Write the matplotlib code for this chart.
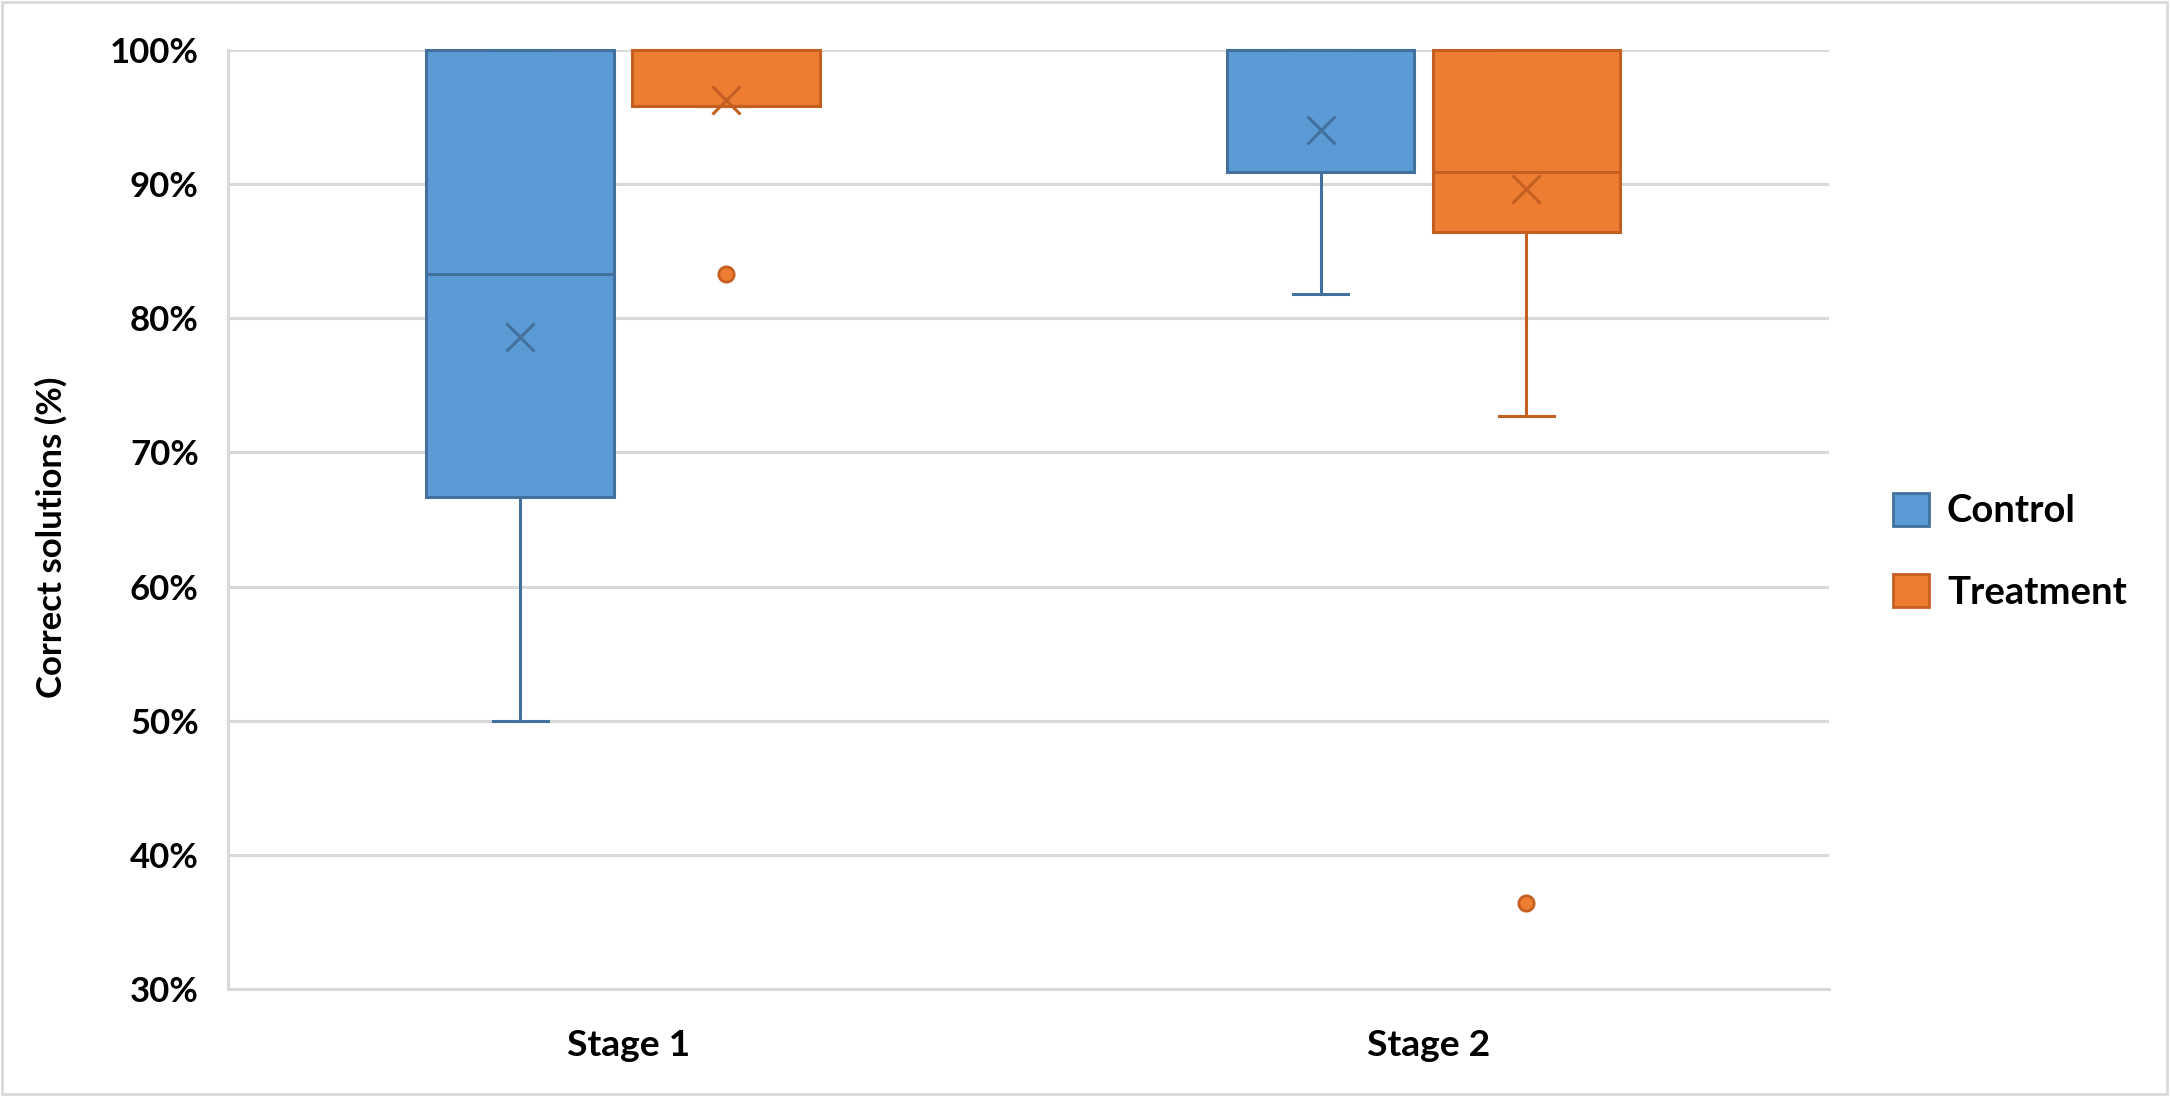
import matplotlib.pyplot as plt
from matplotlib.patches import Patch, Rectangle
from matplotlib.ticker import FuncFormatter

stages = ["Stage 1", "Stage 2"]
groups = ["Control", "Treatment"]

# percent of correct solutions
control_min = [50.0, 81.8]
control_q1 = [66.7, 90.9]
control_med = [83.3, 100.0]
control_q3 = [100.0, 100.0]
control_max = [100.0, 100.0]
control_mean = [78.6, 94.0]
control_out = [[], []]

treat_min = [95.8, 72.7]
treat_q1 = [95.8, 86.4]
treat_med = [100.0, 90.9]
treat_q3 = [100.0, 100.0]
treat_max = [100.0, 100.0]
treat_mean = [96.3, 89.6]
treat_out = [[83.3], [36.4]]

yticks = [30, 40, 50, 60, 70, 80, 90, 100]

fill = {"Control": "#5B9BD5", "Treatment": "#ED7D31"}
edge = {"Control": "#41719C", "Treatment": "#C55F21"}
offset = {"Control": -0.135, "Treatment": 0.122}

plt.rcParams['font.family'] = ['Lato', 'DejaVu Sans']
plt.rcParams['font.weight'] = 'bold'

fig = plt.figure(figsize=(21.71, 10.96), dpi=100)
ax = fig.add_axes([0.105, 0.0976, 0.7375, 0.8568])

series = {
    "Control": (control_min, control_q1, control_med, control_q3, control_max, control_mean, control_out),
    "Treatment": (treat_min, treat_q1, treat_med, treat_q3, treat_max, treat_mean, treat_out),
}

for g in groups:
    lo, q1, med, q3, hi, mean, out = series[g]
    stats = []
    for i in range(len(stages)):
        stats.append({"whislo": lo[i], "q1": q1[i], "med": med[i], "q3": q3[i],
                      "whishi": hi[i], "mean": mean[i], "fliers": out[i]})
    pos = [i + offset[g] for i in range(len(stages))]
    c = edge[g]
    arts = ax.bxp(stats, positions=pos, widths=0.234, patch_artist=True,
                  showmeans=True, capwidths=0.069,
                  boxprops=dict(facecolor=fill[g], edgecolor=c, linewidth=2.2),
                  medianprops=dict(color=c, linewidth=2.2),
                  whiskerprops=dict(color=c, linewidth=2.2),
                  capprops=dict(color=c, linewidth=2.2),
                  meanprops=dict(marker="x", markeredgecolor=c, markersize=20, markeredgewidth=2.2),
                  flierprops=dict(marker="o", markerfacecolor=fill[g], markeredgecolor=c,
                                  markersize=11, markeredgewidth=2),
                  manage_ticks=False)
    for key in arts:
        for a in arts[key]:
            a.set_clip_on(False)

ax.set_xlim(-0.5, len(stages) - 0.5)
ax.set_ylim(30, 100)
ax.set_xticks(range(len(stages)))
ax.set_xticklabels(stages)
ax.set_yticks(yticks)
ax.yaxis.set_major_formatter(FuncFormatter(lambda v, p: f"{v:.0f}%"))
ax.tick_params(axis="both", length=0)
ax.tick_params(axis="y", pad=21, labelsize=25)
ax.tick_params(axis="x", pad=29, labelsize=26.8)
ax.set_axisbelow(True)
ax.grid(axis="y", color="#D9D9D9", linewidth=2.2)
for s in ["top", "right"]:
    ax.spines[s].set_visible(False)
for s in ["left", "bottom"]:
    ax.spines[s].set_color("#D9D9D9")
    ax.spines[s].set_linewidth(2.2)
ax.set_ylabel("Correct solutions (%)", fontsize=25, fontweight="bold")
ax.yaxis.set_label_coords(-0.1, 0.481)

handles = [Patch(facecolor=fill[g], edgecolor=edge[g], linewidth=2, label=g) for g in groups]
fig.legend(handles=handles, loc="center left", bbox_to_anchor=(0.872, 0.497),
           bbox_transform=fig.transFigure, frameon=False, fontsize=27.5,
           handlelength=0.94, handleheight=0.94, handletextpad=0.47,
           labelspacing=1.2, borderpad=0, borderaxespad=0)

fig.add_artist(Rectangle((0.001, 0.002), 0.997, 0.996, transform=fig.transFigure,
                         fill=False, edgecolor="#D9D9D9", linewidth=2))

fig.savefig("out.png", dpi=100)
